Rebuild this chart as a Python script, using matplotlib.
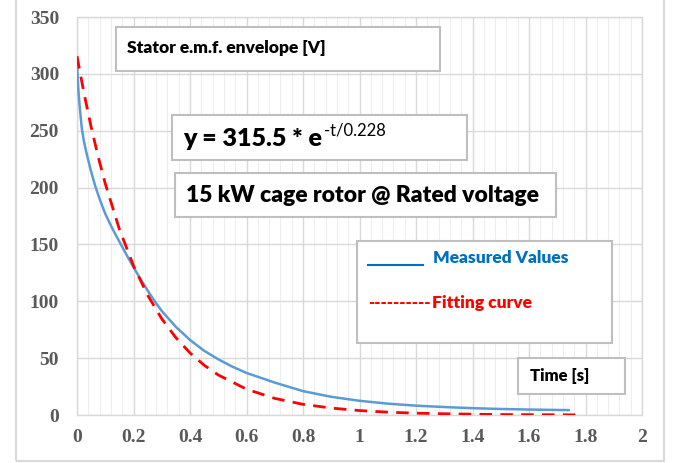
import matplotlib
matplotlib.use("Agg")
import matplotlib.pyplot as plt
from matplotlib.patches import Rectangle
from matplotlib.lines import Line2D

# measured stator e.m.f. envelope
t_meas = [0.0, 0.001, 0.003, 0.006, 0.01, 0.017, 0.025, 0.035, 0.05, 0.065,
          0.08, 0.1, 0.125, 0.15, 0.175, 0.2, 0.225, 0.25, 0.275, 0.3,
          0.35, 0.4, 0.45, 0.5, 0.55, 0.6, 0.7, 0.8, 0.9, 1.0,
          1.1, 1.2, 1.3, 1.4, 1.5, 1.6, 1.74]
v_meas = [310, 304, 294, 282, 270, 252, 240, 229, 214, 201,
          190, 177, 164, 152.5, 141, 130, 119.5, 109.5, 100, 91.5,
          77.5, 66, 56.5, 49, 42.5, 37, 28.5, 21, 16, 12.5,
          10, 8.2, 7, 6, 5.3, 4.8, 4.3]

# fitting curve y = 315.5 * exp(-t/0.228), sampled values
t_fit = [0.0, 0.025, 0.05, 0.075, 0.1, 0.15, 0.2, 0.25, 0.3, 0.35, 0.4, 0.45, 0.5,
         0.6, 0.7, 0.8, 0.9, 1.0, 1.1, 1.2, 1.3, 1.4, 1.5, 1.6, 1.7, 1.78]
v_fit = [315.5, 282.7, 253.4, 227.1, 203.5, 163.4, 131.2, 105.4, 84.6, 68.0, 54.6, 43.8, 35.2,
         22.7, 14.6, 9.4, 6.1, 3.9, 2.5, 1.6, 1.1, 0.7, 0.4, 0.3, 0.2, 0.1]

x_ticks = [0, 0.2, 0.4, 0.6, 0.8, 1, 1.2, 1.4, 1.6, 1.8, 2]
x_tick_labels = ["0", "0.2", "0.4", "0.6", "0.8", "1", "1.2", "1.4", "1.6", "1.8", "2"]
y_ticks = [0, 50, 100, 150, 200, 250, 300, 350]

W, H = 677, 463
BOX_FONT = "Lato"
BOX_WEIGHT = "heavy"
GRAY_TXT = "#595959"


def px(x, y):
    """top-left pixel coords -> figure fraction"""
    return x / W, 1 - y / H


def box(fig, x0, y0, x1, y1):
    fx, fy = px(x0, y1)
    fig.add_artist(Rectangle((fx, fy), (x1 - x0) / W, (y1 - y0) / H,
                             transform=fig.transFigure, facecolor="white",
                             edgecolor="#bfbfbf", lw=1.5, zorder=5))


def label(fig, x, y, s, size, color="black", weight=BOX_WEIGHT, **kw):
    fx, fy = px(x, y)
    return fig.text(fx, fy, s, fontsize=size, color=color, weight=weight,
                    family=BOX_FONT, ha="left", va="center", zorder=6, **kw)


fig = plt.figure(figsize=(W / 100, H / 100), dpi=100)
fig.add_artist(Rectangle((16 / W, 2 / H), 648 / W, 470 / H,
                         transform=fig.transFigure, fill=False,
                         edgecolor="#d9d9d9", lw=1.5))

ax = fig.add_axes([77 / W, 48 / H, 565 / W, 398 / H])
ax.set_xlim(0, 2)
ax.set_ylim(0, 350)
ax.set_xticks(x_ticks)
ax.set_xticklabels(x_tick_labels)
ax.set_yticks(y_ticks)
ax.set_xticks([i * 0.04 for i in range(51)], minor=True)
ax.grid(which="major", color="#d9d9d9", lw=1.0)
ax.grid(which="minor", axis="x", color="#eeeeee", lw=0.8)
ax.tick_params(which="both", length=0)
ax.tick_params(axis="y", pad=13)
ax.tick_params(axis="x", pad=10)
for lbl in ax.get_xticklabels() + ax.get_yticklabels():
    lbl.set_family("Liberation Serif")
    lbl.set_weight("bold")
    lbl.set_fontsize(14)
    lbl.set_color(GRAY_TXT)
for side, sp in ax.spines.items():
    sp.set_color("#d9d9d9")
    sp.set_linewidth(1.0)

ax.plot(t_meas, v_meas, color="#5b9bd5", lw=1.8, zorder=3)
ax.plot(t_fit, v_fit, color="#ff0000", lw=2.0, ls=(0, (4.5, 3)), zorder=4)

# annotation boxes
box(fig, 116, 27, 440, 71)
label(fig, 127, 48, "Stator e.m.f. envelope [V]", 12.5)

box(fig, 172, 115, 467, 160)
main = label(fig, 183, 139, "y = 315.5 * e", 18)
fig.canvas.draw()
bb = main.get_window_extent()
fig.text((bb.x1 + 2) / W, 1 - 131 / H, "-t/0.228", fontsize=12, family=BOX_FONT,
         ha="left", va="center", zorder=6)

box(fig, 175, 173, 556, 217)
label(fig, 186, 196, "15 kW cage rotor @ Rated voltage", 16.5)

box(fig, 357, 241, 612, 343)
fig.add_artist(Line2D([368 / W, 423 / W], [1 - 265 / H, 1 - 265 / H],
                      transform=fig.transFigure, color="#0070c0", lw=1.5, zorder=6))
label(fig, 433, 258, "Measured Values", 12.5, color="#0070c0")
label(fig, 368, 303, "----------", 12, color="#ff0000")
label(fig, 432, 303, "Fitting curve", 12.5, color="#ff0000")

box(fig, 518, 358, 625, 394)
label(fig, 530, 376, "Time [s]", 12)

fig.savefig("out.png", dpi=100)
